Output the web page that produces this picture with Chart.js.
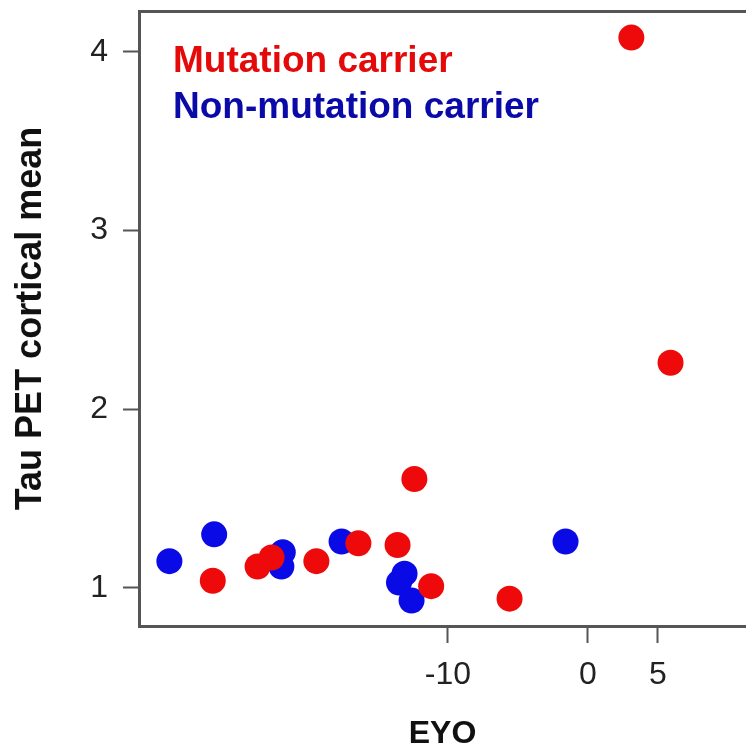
<!DOCTYPE html>
<html lang="en">
<head>
<meta charset="UTF-8">
<title>Tau PET cortical mean vs EYO</title>
<script src="https://cdn.jsdelivr.net/npm/chart.js@4"></script>
<style>
  html, body { margin: 0; padding: 0; background: #fff; overflow: hidden; }
  #wrap { position: relative; width: 746px; height: 751px; }
</style>
</head>
<body>
<div id="wrap"><canvas id="tauChart"></canvas></div>
<script>
// values
const carrierEyo = [3.1, 5.9, -12.4, -26.8, -23.6, -22.6, -19.4, -16.4, -13.6, -11.2, -5.6];
const carrierTau = [4.08, 2.26, 1.61, 1.04, 1.12, 1.17, 1.15, 1.25, 1.24, 1.01, 0.94];
const nonCarrierEyo = [-29.9, -26.7, -21.8, -21.9, -17.6, -13.1, -13.5, -12.6, -1.6];
const nonCarrierTau = [1.15, 1.30, 1.20, 1.12, 1.26, 1.08, 1.03, 0.93, 1.26];

const seriesNames = ['Mutation carrier', 'Non-mutation carrier'];
const xTicks = [-10, 0, 5];
const yTicks = [1, 2, 3, 4];

const X_MIN = -32.07, X_MAX = 11.29;
const Y_MIN = 0.787, Y_MAX = 4.229;

const FONT = '"Liberation Sans", Arial, Helvetica, sans-serif';
const pointColors = ['#ee0a0a', '#0a0ae6'];
const legendColors = ['#e40a0a', '#0a0aa8'];
const axisGray = '#555555';

function toPoints(xs, ys) {
  return xs.map((x, i) => ({ x: x, y: ys[i] }));
}

// fixed axis box sizes, and no extra label padding pushed onto the chart area
function fixBox(size, horizontal) {
  return axis => {
    if (horizontal) axis.height = size; else axis.width = size;
    axis.paddingTop = 0;
    axis.paddingBottom = 0;
    axis.paddingLeft = 0;
    axis.paddingRight = 0;
  };
}

// legend drawn inside the plot, top-left, coloured text only
const insideLegend = {
  id: 'insideLegend',
  afterDraw(chart) {
    const { ctx, chartArea } = chart;
    ctx.save();
    ctx.font = 'bold 37px ' + FONT;
    ctx.textBaseline = 'middle';
    ctx.textAlign = 'left';
    chart.data.datasets.forEach((ds, i) => {
      ctx.fillStyle = legendColors[i];
      ctx.fillText(ds.label, chartArea.left + 34, chartArea.top + 51 + i * 46);
    });
    ctx.restore();
  }
};

const config = {
  type: 'scatter',
  data: {
    datasets: [
      {
        label: seriesNames[0],
        data: toPoints(carrierEyo, carrierTau),
        backgroundColor: pointColors[0],
        borderWidth: 0,
        pointRadius: 13,
        pointHoverRadius: 13
      },
      {
        label: seriesNames[1],
        data: toPoints(nonCarrierEyo, nonCarrierTau),
        backgroundColor: pointColors[1],
        borderWidth: 0,
        pointRadius: 13,
        pointHoverRadius: 13
      }
    ]
  },
  options: {
    responsive: true,
    maintainAspectRatio: false,
    animation: false,
    layout: { padding: 0, autoPadding: false },
    plugins: {
      legend: { display: false },
      tooltip: { enabled: false }
    },
    scales: {
      x: {
        type: 'linear',
        position: 'bottom',
        min: X_MIN,
        max: X_MAX,
        afterBuildTicks: axis => { axis.ticks = xTicks.map(v => ({ value: v })); },
        afterFit: fixBox(125, true),
        grid: { drawOnChartArea: false, drawTicks: true, tickLength: 17, tickWidth: 2, tickColor: axisGray },
        border: { display: true, color: axisGray, width: 3 },
        ticks: { padding: 13, color: '#222', autoSkip: false, maxRotation: 0, font: { family: FONT, size: 32 } },
        title: {
          display: true, text: 'EYO', color: '#111',
          font: { family: FONT, size: 32, weight: 'bold', lineHeight: 1 },
          padding: { top: 0, bottom: 1 }
        }
      },
      xTop: {
        type: 'linear',
        position: 'top',
        min: 0,
        max: 1,
        afterFit: fixBox(11, true),
        grid: { display: false },
        ticks: { display: false },
        border: { display: true, color: axisGray, width: 3 }
      },
      y: {
        type: 'linear',
        position: 'left',
        min: Y_MIN,
        max: Y_MAX,
        afterBuildTicks: axis => { axis.ticks = yTicks.map(v => ({ value: v })); },
        afterFit: fixBox(139, false),
        grid: { drawOnChartArea: false, drawTicks: true, tickLength: 16, tickWidth: 2, tickColor: axisGray },
        border: { display: true, color: axisGray, width: 3 },
        ticks: { padding: 15, color: '#222', font: { family: FONT, size: 32 } },
        title: {
          display: true, text: 'Tau PET cortical mean', color: '#111',
          font: { family: FONT, size: 36, weight: 'bold', lineHeight: 1 },
          padding: { top: 13, bottom: 0 }
        }
      }
    }
  },
  plugins: [insideLegend]
};

const ctx = document.getElementById('tauChart').getContext('2d');
new Chart(ctx, config);
</script>
</body>
</html>
